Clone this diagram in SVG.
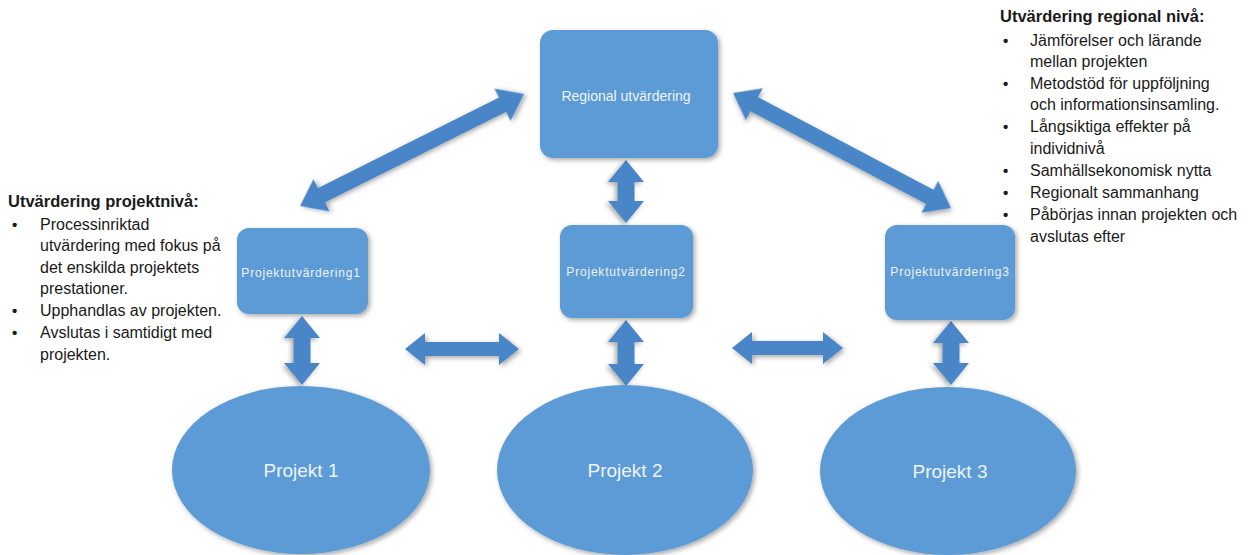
<svg xmlns="http://www.w3.org/2000/svg" width="1256" height="555" viewBox="0 0 1256 555">
<style>
.shape{fill:#5b9bd5;filter:url(#sh)}
.arrow{fill:#4a86c8;filter:url(#sh)}
.lbl{fill:#eef4fb;font-family:"Liberation Sans",Arial,sans-serif;text-anchor:middle}
.txt{fill:#1a1a1a;font-family:"Liberation Sans",Arial,sans-serif;font-size:16px}
.hd{font-weight:bold;font-size:16.5px}
.b{font-size:15px;font-weight:bold}
</style>
<defs>
<filter id="sh" x="-20%" y="-20%" width="140%" height="140%">
<feGaussianBlur in="SourceAlpha" stdDeviation="2.5"/>
<feOffset dx="2" dy="2" result="b"/>
<feComponentTransfer><feFuncA type="linear" slope="0.35"/></feComponentTransfer>
<feMerge><feMergeNode/><feMergeNode in="SourceGraphic"/></feMerge>
</filter>
</defs>
<rect width="1256" height="555" fill="#ffffff"/>

<g id="connectors">
<polygon class="arrow" transform="translate(300,206) rotate(-26.57)" points="0,0 24,-18 24,-8 226.4,-8 226.4,-18 250.4,0 226.4,18 226.4,8 24,8 24,18"/>
<polygon class="arrow" transform="translate(733,93) rotate(27.82)" points="0,0 24,-18 24,-8 222.5,-8 222.5,-18 246.5,0 222.5,18 222.5,8 24,8 24,18"/>
<polygon class="arrow" transform="translate(626,160) rotate(90)" points="0,0 22,-18 22,-8.5 41,-8.5 41,-18 63,0 41,18 41,8.5 22,8.5 22,18"/>
<polygon class="arrow" transform="translate(626,320) rotate(90)" points="0,0 22,-18 22,-8.5 44,-8.5 44,-18 66,0 44,18 44,8.5 22,8.5 22,18"/>
<polygon class="arrow" transform="translate(302,316) rotate(90)" points="0,0 22,-18 22,-8.5 47,-8.5 47,-18 69,0 47,18 47,8.5 22,8.5 22,18"/>
<polygon class="arrow" transform="translate(951,321) rotate(90)" points="0,0 22,-18 22,-8.5 42,-8.5 42,-18 64,0 42,18 42,8.5 22,8.5 22,18"/>
<polygon class="arrow" transform="translate(405,349)" points="0,0 20,-16 20,-7 94,-7 94,-16 114,0 94,16 94,7 20,7 20,16"/>
<polygon class="arrow" transform="translate(732,348)" points="0,0 20,-16 20,-7 91,-7 91,-16 111,0 91,16 91,7 20,7 20,16"/>
</g>

<g id="regional">
<rect class="shape" x="540" y="30" width="178" height="128" rx="13"/>
<text class="lbl" x="626" y="101" font-size="14">Regional utvärdering</text>
</g>
<g id="pu1">
<rect class="shape" x="237" y="228" width="131" height="86" rx="12"/>
<text class="lbl" x="301" y="277" font-size="12" letter-spacing="0.8">Projektutvärdering1</text>
</g>
<g id="pu2">
<rect class="shape" x="560" y="225" width="133" height="93" rx="12"/>
<text class="lbl" x="626" y="276" font-size="12" letter-spacing="0.8">Projektutvärdering2</text>
</g>
<g id="pu3">
<rect class="shape" x="885" y="225" width="130" height="95" rx="12"/>
<text class="lbl" x="950" y="276" font-size="12" letter-spacing="0.8">Projektutvärdering3</text>
</g>
<g id="p1">
<ellipse class="shape" cx="301" cy="470" rx="129" ry="84"/>
<text class="lbl" x="301" y="477" font-size="19">Projekt 1</text>
</g>
<g id="p2">
<ellipse class="shape" cx="625" cy="470" rx="128" ry="85"/>
<text class="lbl" x="625" y="477" font-size="19">Projekt 2</text>
</g>
<g id="p3">
<ellipse class="shape" cx="948" cy="471" rx="128" ry="84"/>
<text class="lbl" x="950" y="478" font-size="19">Projekt 3</text>
</g>

<g id="text-projekt">
<text class="txt hd" x="8" y="207">Utvärdering projektnivå:</text>
<text class="txt b" x="12" y="230">•</text>
<text class="txt" x="40" y="230">Processinriktad</text>
<text class="txt" x="40" y="251">utvärdering med fokus på</text>
<text class="txt" x="40" y="273">det enskilda projektets</text>
<text class="txt" x="40" y="294">prestationer.</text>
<text class="txt b" x="12" y="316">•</text>
<text class="txt" x="40" y="316">Upphandlas av projekten.</text>
<text class="txt b" x="12" y="338">•</text>
<text class="txt" x="40" y="338">Avslutas i samtidigt med</text>
<text class="txt" x="40" y="360">projekten.</text>
</g>

<g id="text-regional">
<text class="txt hd" x="1000" y="22">Utvärdering regional nivå:</text>
<text class="txt b" x="1003" y="46">•</text>
<text class="txt" x="1030" y="46">Jämförelser och lärande</text>
<text class="txt" x="1030" y="67">mellan projekten</text>
<text class="txt b" x="1003" y="89">•</text>
<text class="txt" x="1030" y="89">Metodstöd för uppföljning</text>
<text class="txt" x="1030" y="110">och informationsinsamling.</text>
<text class="txt b" x="1003" y="132">•</text>
<text class="txt" x="1030" y="132">Långsiktiga effekter på</text>
<text class="txt" x="1030" y="154">individnivå</text>
<text class="txt b" x="1003" y="176">•</text>
<text class="txt" x="1030" y="176">Samhällsekonomisk nytta</text>
<text class="txt b" x="1003" y="198">•</text>
<text class="txt" x="1030" y="198">Regionalt sammanhang</text>
<text class="txt b" x="1003" y="220">•</text>
<text class="txt" x="1030" y="220">Påbörjas innan projekten och</text>
<text class="txt" x="1030" y="242">avslutas efter</text>
</g>
</svg>
